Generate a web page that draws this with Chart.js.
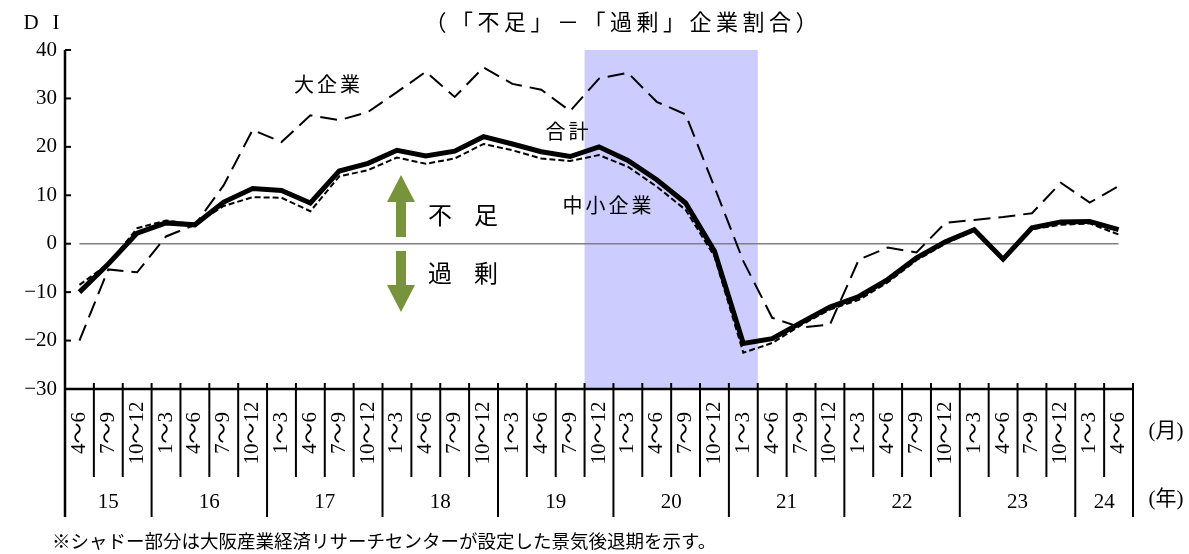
<!DOCTYPE html>
<html lang="ja">
<head>
<meta charset="utf-8">
<title>DI（「不足」－「過剰」企業割合）</title>
<script src="https://cdn.jsdelivr.net/npm/chart.js@4.4.1/dist/chart.umd.min.js"></script>
<style>
  html, body { margin: 0; padding: 0; background: #fff; }
  #wrap { width: 1189px; height: 554px; }
</style>
</head>
<body>
<div id="wrap"><canvas id="myChart" width="1189" height="554"></canvas></div>
<script>
/* globals Chart:false */

// quarters (月) from 2015 4~6 to 2024 4~6
const quarters = [
  '4～6', '7～9', '10～12',
  '1～3', '4～6', '7～9', '10～12',
  '1～3', '4～6', '7～9', '10～12',
  '1～3', '4～6', '7～9', '10～12',
  '1～3', '4～6', '7～9', '10～12',
  '1～3', '4～6', '7～9', '10～12',
  '1～3', '4～6', '7～9', '10～12',
  '1～3', '4～6', '7～9', '10～12',
  '1～3', '4～6', '7～9', '10～12',
  '1～3', '4～6'
]
const years = ['15', '16', '17', '18', '19', '20', '21', '22', '23', '24']
const yearCounts = [3, 4, 4, 4, 4, 4, 4, 4, 4, 2]

// DI values
const totalDI = [
  -10, -4.2, 2.2,
  4.3, 3.9, 8.6, 11.4,
  11.0, 8.4, 15.0, 16.6,
  19.3, 18.1, 19.1, 22.1,
  20.6, 19.0, 18.0, 20.0,
  17.2, 13.2, 8.4, -1.5,
  -20.6, -19.6, -16.3, -13.1,
  -10.9, -7.4, -2.9, 0.4,
  2.9, -3.2, 3.3, 4.5,
  4.6, 2.9
]
const largeDI = [
  -20, -5.3, -5.9,
  1.5, 3.9, 12.1, 23.5,
  21.0, 26.5, 25.5, 27.2,
  31.3, 35.5, 30.3, 36.4,
  33.0, 31.8, 27.4, 34.1,
  35.3, 29.3, 26.7, 11.7,
  -3.6, -15.3, -17.3, -16.7,
  -3.3, -0.8, -1.8, 4.3,
  4.9, 5.5, 6.3, 12.6,
  8.5, 11.9
]
const smallDI = [
  -8.5, -4.2, 3.2,
  4.8, 4.0, 7.8, 9.6,
  9.5, 6.7, 13.9, 15.2,
  17.8, 16.5, 17.6, 20.6,
  19.3, 17.6, 17.1, 18.3,
  15.9, 11.8, 7.0, -2.6,
  -22.5, -20.5, -16.8, -13.6,
  -11.6, -8.0, -3.4, 0.0,
  2.7, -3.4, 3.0, 3.9,
  4.2, 1.9
]

// recession shadow: 2019 10~12 .. 2021 1~3 (category indexes)
const shadeFirst = 18
const shadeLast = 23

const yMin = -30
const yMax = 40
const yStep = 10

const SERIF = '"Liberation Serif", "Noto Sans CJK JP", serif'
const JP = '"Noto Sans CJK JP", sans-serif'

function line(ctx, x0, y0, x1, y1) {
  ctx.beginPath()
  ctx.moveTo(x0, y0)
  ctx.lineTo(x1, y1)
  ctx.stroke()
}

function spaced(ctx, text, cx, cy, step) {
  const chars = Array.from(text)
  const start = cx - chars.length * step / 2
  chars.forEach((c, i) => ctx.fillText(c, start + (i + 0.5) * step, cy))
}

function arrow(ctx, cx, yBase, yTip, dir) {
  const shaft = 5, head = 14, headLen = 27
  const yHead = yTip - dir * headLen
  ctx.beginPath()
  ctx.moveTo(cx - shaft, yBase)
  ctx.lineTo(cx - shaft, yHead)
  ctx.lineTo(cx - head, yHead)
  ctx.lineTo(cx, yTip)
  ctx.lineTo(cx + head, yHead)
  ctx.lineTo(cx + shaft, yHead)
  ctx.lineTo(cx + shaft, yBase)
  ctx.closePath()
  ctx.fill()
}

const decor = {
  id: 'decor',
  beforeDatasetsDraw(chart) {
    const {ctx, chartArea: a, scales: {x, y}} = chart
    const half = (x.getPixelForValue(1) - x.getPixelForValue(0)) / 2
    ctx.save()
    ctx.fillStyle = '#ccccff'
    const x0 = x.getPixelForValue(shadeFirst) - half
    const x1 = x.getPixelForValue(shadeLast) + half
    ctx.fillRect(x0, a.top, x1 - x0, a.bottom - a.top)

    // zero line
    ctx.strokeStyle = '#808080'
    ctx.lineWidth = 1.5
    const y0 = y.getPixelForValue(0)
    line(ctx, x.getPixelForValue(0), y0, x.getPixelForValue(quarters.length - 1), y0)
    ctx.restore()
  },
  afterDraw(chart) {
    const {ctx, chartArea: a, scales: {x, y}} = chart
    const half = (x.getPixelForValue(1) - x.getPixelForValue(0)) / 2
    const qBottom = a.bottom + 88
    const yBottom = a.bottom + 128
    ctx.save()
    ctx.strokeStyle = '#000'
    ctx.fillStyle = '#000'

    // axes
    ctx.lineWidth = 2.5
    line(ctx, a.left, a.top, a.left, yBottom)
    line(ctx, a.left, a.bottom, a.right, a.bottom)
    ctx.lineWidth = 2
    y.ticks.forEach(t => {
      if (t.value === yMin) return
      const py = y.getPixelForValue(t.value)
      line(ctx, a.left, py, a.left + 6, py)
    })

    // quarter / year separators
    const yearStarts = []
    let acc = 0
    yearCounts.forEach(n => { yearStarts.push(acc); acc += n })
    for (let k = 1; k <= quarters.length; k++) {
      const bx = x.getPixelForValue(k) - half
      const isYear = yearStarts.includes(k) || k === quarters.length
      line(ctx, bx, a.bottom - 6, bx, isYear ? yBottom : qBottom)
    }

    // quarter labels (vertical)
    ctx.font = '21px ' + SERIF
    ctx.textAlign = 'center'
    ctx.textBaseline = 'middle'
    quarters.forEach((q, i) => {
      ctx.save()
      ctx.translate(x.getPixelForValue(i), a.bottom + 44)
      ctx.rotate(-Math.PI / 2)
      ctx.fillText(q, 0, 0)
      ctx.restore()
    })

    // year labels
    years.forEach((yr, j) => {
      const first = yearStarts[j]
      const last = first + yearCounts[j] - 1
      const cx = (x.getPixelForValue(first) + x.getPixelForValue(last)) / 2
      ctx.fillText(yr, cx, a.bottom + 113)
    })
    ctx.fillText('(月)', 1166, a.bottom + 42)
    ctx.fillText('(年)', 1166, a.bottom + 110)

    // titles
    ctx.font = '21px ' + SERIF
    ctx.fillText('D', 31, 23)
    ctx.fillText('I', 56, 23)
    ctx.font = '22px ' + JP
    spaced(ctx, '（「不足」－「過剰」企業割合）', 621, 22, 26.5)

    // series names
    ctx.font = '20px ' + JP
    spaced(ctx, '大企業', 327, 84, 23)
    spaced(ctx, '合計', 567, 131, 23)
    spaced(ctx, '中小企業', 607, 205, 23)

    // shortage / surplus
    ctx.fillStyle = '#77933c'
    arrow(ctx, 401, 237, 175, -1)
    arrow(ctx, 401, 251, 312, 1)
    ctx.fillStyle = '#000'
    ctx.font = '24px ' + JP
    spaced(ctx, '不　足', 463, 215, 23)
    spaced(ctx, '過　剰', 463, 273, 23)

    // note
    ctx.font = '18.5px ' + JP
    ctx.textAlign = 'left'
    ctx.fillText('※シャドー部分は大阪産業経済リサーチセンターが設定した景気後退期を示す。', 52, 541)
    ctx.restore()
  }
}

const ctx = document.getElementById('myChart')
// eslint-disable-next-line no-unused-vars
const myChart = new Chart(ctx, {
  type: 'line',
  data: {
    labels: quarters,
    datasets: [{
      label: '合計',
      data: totalDI,
      borderColor: '#000',
      borderWidth: 5,
      pointRadius: 0,
      tension: 0
    }, {
      label: '中小企業',
      data: smallDI,
      borderColor: '#000',
      borderWidth: 2,
      borderDash: [6, 3],
      pointRadius: 0,
      tension: 0
    }, {
      label: '大企業',
      data: largeDI,
      borderColor: '#000',
      borderWidth: 2,
      borderDash: [17, 8],
      pointRadius: 0,
      tension: 0
    }]
  },
  options: {
    responsive: false,
    animation: false,
    devicePixelRatio: 1,
    layout: {
      padding: {left: 0, top: 50, right: 56, bottom: 0}
    },
    scales: {
      x: {
        type: 'category',
        offset: true,
        grid: {display: false},
        border: {display: false},
        ticks: {display: false},
        afterFit: s => { s.height = 165 }
      },
      y: {
        min: yMin,
        max: yMax,
        grid: {display: false, drawTicks: false},
        border: {display: false},
        ticks: {
          stepSize: yStep,
          padding: 8,
          color: '#000',
          font: {family: SERIF, size: 21},
          callback: v => String(v).replace('-', '−')
        },
        afterFit: s => { s.width = 65 }
      }
    },
    plugins: {
      legend: {display: false},
      tooltip: {enabled: false}
    }
  },
  plugins: [decor]
})
</script>
</body>
</html>
